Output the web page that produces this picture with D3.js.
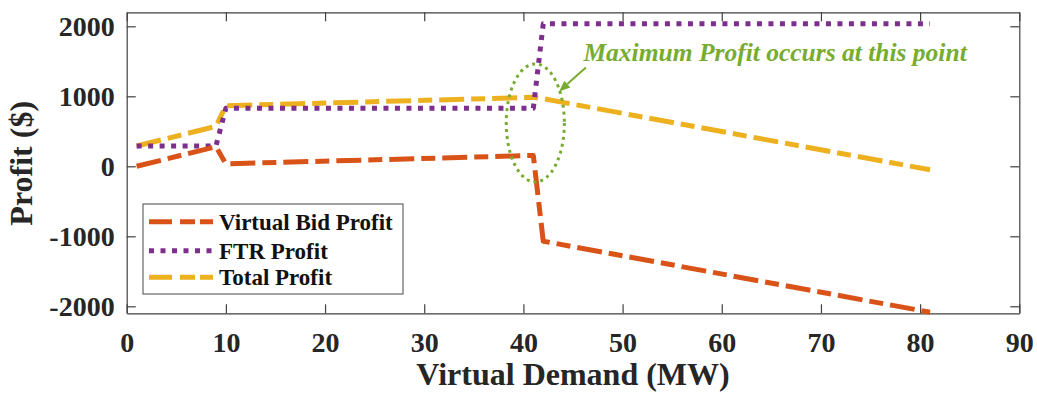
<!DOCTYPE html>
<html>
<head>
<meta charset="utf-8">
<script src="https://cdn.jsdelivr.net/npm/d3@7"></script>
<style>
  html, body { margin: 0; padding: 0; background: #fff; }
  svg { display: block; font-family: "Liberation Serif", "Times New Roman", serif; }
</style>
</head>
<body>
<svg id="chart" width="1037" height="393"></svg>
<script>
// Virtual demand (MW) at the breakpoints of each profit curve
const demand = [1, 9, 10, 41, 42, 81];
// Profit ($) per curve at those breakpoints
const virtualBidProfit = [0, 280, 35, 155, -1070, -2085];
const ftrProfit = [290, 290, 830, 830, 2035, 2035];
const totalProfit = [290, 570, 865, 985, 965, -50];

const seriesNames = ["Virtual Bid Profit", "FTR Profit", "Total Profit"];
const xTicks = [0, 10, 20, 30, 40, 50, 60, 70, 80, 90];
const yTicks = [-2000, -1000, 0, 1000, 2000];

// Callout marking the optimum
const calloutText = "Maximum Profit occurs at this point";

const W = 1037, H = 393;
const m = { left: 126.7, top: 12.3, right: 1037 - 1019.3, bottom: 393 - 313.3 };
const iw = W - m.left - m.right, ih = H - m.top - m.bottom;

const svg = d3.select("#chart");
const g = svg.append("g").attr("transform", `translate(${m.left},${m.top})`);

const x = d3.scaleLinear().domain([0, 90]).range([0, iw]);
const y = d3.scaleLinear().domain([-2100, 2200]).range([ih, 0]);

const axisColor = "#404040";
const textColor = "#262626";
const tickLen = 9;
const plainNumber = d => String(d);

// Axes: ticks point inward on all four sides; labels only bottom and left
const axes = [
  { ax: d3.axisBottom(x).tickValues(xTicks), tr: `translate(0,${ih})`, labels: true, pad: 19 },
  { ax: d3.axisTop(x).tickValues(xTicks), tr: `translate(0,0)`, labels: false, pad: 0 },
  { ax: d3.axisLeft(y).tickValues(yTicks), tr: `translate(0,0)`, labels: true, pad: 12 },
  { ax: d3.axisRight(y).tickValues(yTicks), tr: `translate(${iw},0)`, labels: false, pad: 0 }
];
axes.forEach(a => {
  const ag = g.append("g").attr("transform", a.tr)
    .call(a.ax.tickSizeInner(-tickLen).tickSizeOuter(0).tickPadding(a.pad)
      .tickFormat(a.labels ? plainNumber : () => ""));
  ag.attr("font-family", null);
  ag.select(".domain").attr("stroke", axisColor).attr("stroke-width", 1.2);
  ag.selectAll(".tick line").attr("stroke", axisColor).attr("stroke-width", 1.2);
  ag.selectAll(".tick text")
    .attr("fill", textColor)
    .attr("font-size", 28)
    .attr("font-weight", "bold");
});

// Axis titles
svg.append("text")
  .attr("x", m.left + iw / 2).attr("y", 385)
  .attr("text-anchor", "middle")
  .attr("font-size", 32).attr("font-weight", "bold").attr("fill", textColor)
  .text("Virtual Demand (MW)");
svg.append("text")
  .attr("transform", `translate(32,${m.top + y(0) - 3}) rotate(-90)`)
  .attr("text-anchor", "middle")
  .attr("font-size", 32).attr("font-weight", "bold").attr("fill", textColor)
  .text("Profit ($)");

// Curves
const styles = [
  { color: "#D95319", dash: "25,7,14,7", width: 5 },
  { color: "#7E2F8E", dash: "5,6.5", width: 5 },
  { color: "#EDB120", dash: "25,7,14,7", width: 5 }
];
const seriesValues = [virtualBidProfit, ftrProfit, totalProfit];
const line = d3.line().x(d => x(d[0])).y(d => y(d[1]));

[2, 1, 0].forEach(k => {
  const pts = demand.map((d, i) => [d, seriesValues[k][i]]);
  g.append("path")
    .datum(pts)
    .attr("fill", "none")
    .attr("stroke", styles[k].color)
    .attr("stroke-width", styles[k].width)
    .attr("stroke-dasharray", styles[k].dash)
    .attr("stroke-linejoin", "round")
    .attr("d", line);
});

// Callout: dotted ellipse around the optimum, arrow and note (data units)
const ellipse = { cx: 41.2, cy: 620, rx: 2.93, ry: 843 };
g.append("ellipse")
  .attr("cx", x(ellipse.cx)).attr("cy", y(ellipse.cy))
  .attr("rx", x(ellipse.rx) - x(0)).attr("ry", y(0) - y(ellipse.ry))
  .attr("fill", "none").attr("stroke", "#77AC30")
  .attr("stroke-width", 3).attr("stroke-dasharray", "3,4");

const arrowFrom = [46.3, 1410], arrowTo = [43.6, 1070];
const ax0 = x(arrowFrom[0]), ay0 = y(arrowFrom[1]);
const ax1 = x(arrowTo[0]), ay1 = y(arrowTo[1]);
const ang = Math.atan2(ay1 - ay0, ax1 - ax0);
const headLen = 11, headHalf = 4.5;
const bx = ax1 - headLen * Math.cos(ang), by = ay1 - headLen * Math.sin(ang);
g.append("line")
  .attr("x1", ax0).attr("y1", ay0).attr("x2", bx).attr("y2", by)
  .attr("stroke", "#77AC30").attr("stroke-width", 2);
g.append("path")
  .attr("d", `M${ax1},${ay1}L${bx - headHalf * Math.sin(ang)},${by + headHalf * Math.cos(ang)}L${bx + headHalf * Math.sin(ang)},${by - headHalf * Math.cos(ang)}Z`)
  .attr("fill", "#77AC30");

g.append("text")
  .attr("x", x(84.7)).attr("y", y(1510))
  .attr("text-anchor", "end")
  .attr("font-size", 25.5).attr("font-weight", "bold").attr("font-style", "italic")
  .attr("fill", "#77AC30")
  .text(calloutText);

// Legend
const lg = svg.append("g").attr("transform", "translate(143,204)");
lg.append("rect").attr("width", 260).attr("height", 90)
  .attr("fill", "#fff").attr("stroke", "#666").attr("stroke-width", 1.2);
const rowY = [17.7, 46.7, 73.3];
seriesNames.forEach((name, k) => {
  lg.append("line")
    .attr("x1", 6).attr("x2", 70).attr("y1", rowY[k]).attr("y2", rowY[k])
    .attr("stroke", styles[k].color).attr("stroke-width", styles[k].width)
    .attr("stroke-dasharray", k === 1 ? "5,6.5" : "23,8,15,5");
  lg.append("text")
    .attr("x", 76).attr("y", rowY[k] + 8)
    .attr("font-size", 23).attr("font-weight", "bold").attr("fill", "#111")
    .text(name);
});
</script>
</body>
</html>
